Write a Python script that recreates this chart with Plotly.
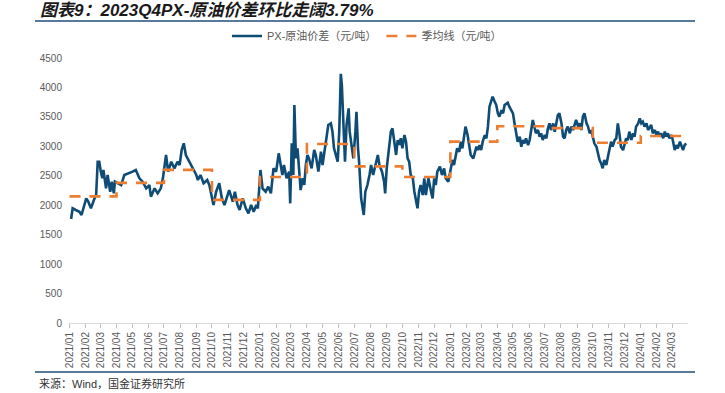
import plotly.graph_objects as go

# ---------------- data ----------------
px_dates = [
    "2021-01-04","2021-01-07","2021-01-13","2021-01-20","2021-01-24","2021-02-02","2021-02-06","2021-02-11",
    "2021-02-18","2021-02-21","2021-02-24","2021-02-27","2021-03-02","2021-03-05","2021-03-07","2021-03-12",
    "2021-03-15","2021-03-20","2021-03-23","2021-03-27","2021-03-29","2021-04-03","2021-04-10","2021-04-16",
    "2021-04-26","2021-05-02","2021-05-08","2021-05-15","2021-05-21","2021-05-28","2021-06-03","2021-06-06",
    "2021-06-13","2021-06-19","2021-06-25","2021-06-29","2021-07-05","2021-07-09","2021-07-15","2021-07-21",
    "2021-07-27","2021-07-31","2021-08-04","2021-08-08","2021-08-12","2021-08-19","2021-08-25","2021-09-01",
    "2021-09-04","2021-09-09","2021-09-15","2021-09-22","2021-09-26","2021-10-01","2021-10-04","2021-10-09",
    "2021-10-15","2021-10-20","2021-10-25","2021-10-31","2021-11-03","2021-11-10","2021-11-14","2021-11-19",
    "2021-11-23","2021-11-29","2021-12-05","2021-12-10","2021-12-15","2021-12-20","2021-12-25","2021-12-28",
    "2022-01-02","2022-01-06","2022-01-12","2022-01-17","2022-01-22","2022-01-27","2022-02-01","2022-02-06",
    "2022-02-10","2022-02-13","2022-02-16","2022-02-21","2022-02-26","2022-02-28","2022-03-03","2022-03-06",
    "2022-03-08","2022-03-11","2022-03-14","2022-03-17","2022-03-20","2022-03-24","2022-03-27","2022-03-30",
    "2022-04-02","2022-04-05","2022-04-10","2022-04-15","2022-04-18","2022-04-23","2022-04-28","2022-05-01",
    "2022-05-06","2022-05-09","2022-05-12","2022-05-17","2022-05-20","2022-05-23","2022-05-26","2022-05-30",
    "2022-06-02","2022-06-05","2022-06-07","2022-06-10","2022-06-13","2022-06-16","2022-06-20","2022-06-22",
    "2022-06-26","2022-06-29","2022-07-03","2022-07-05","2022-07-08","2022-07-10","2022-07-14","2022-07-17",
    "2022-07-19","2022-07-22","2022-07-26","2022-07-30","2022-08-02","2022-08-06","2022-08-12","2022-08-15",
    "2022-08-18","2022-08-23","2022-08-27","2022-08-29","2022-09-01","2022-09-05","2022-09-09","2022-09-12",
    "2022-09-15","2022-09-19","2022-09-22","2022-09-25","2022-09-28","2022-10-01","2022-10-05","2022-10-08",
    "2022-10-11","2022-10-14","2022-10-17","2022-10-21","2022-10-24","2022-10-27","2022-10-30","2022-11-02",
    "2022-11-05","2022-11-09","2022-11-12","2022-11-15","2022-11-20","2022-11-25","2022-11-28","2022-12-01",
    "2022-12-04","2022-12-07","2022-12-12","2022-12-16","2022-12-20","2022-12-23","2022-12-28","2023-01-02",
    "2023-01-05","2023-01-08","2023-01-11","2023-01-14","2023-01-18","2023-01-21","2023-01-24","2023-01-27",
    "2023-01-30","2023-02-03","2023-02-06","2023-02-09","2023-02-14","2023-02-20","2023-02-23","2023-02-26",
    "2023-03-01","2023-03-04","2023-03-08","2023-03-11","2023-03-14","2023-03-17","2023-03-20","2023-03-23",
    "2023-03-27","2023-03-30","2023-04-02","2023-04-05","2023-04-09","2023-04-12","2023-04-15","2023-04-18",
    "2023-04-21","2023-04-24","2023-04-28","2023-05-01","2023-05-04","2023-05-07","2023-05-10","2023-05-14",
    "2023-05-17","2023-05-20","2023-05-23","2023-05-26","2023-05-30","2023-06-02","2023-06-05","2023-06-08",
    "2023-06-11","2023-06-14","2023-06-18","2023-06-21","2023-06-24","2023-06-27","2023-07-01","2023-07-04",
    "2023-07-07","2023-07-10","2023-07-13","2023-07-17","2023-07-20","2023-07-23","2023-07-26","2023-07-29",
    "2023-08-02","2023-08-05","2023-08-08","2023-08-11","2023-08-14","2023-08-18","2023-08-21","2023-08-24",
    "2023-08-27","2023-08-30","2023-09-03","2023-09-06","2023-09-09","2023-09-12","2023-09-15","2023-09-19",
    "2023-09-22","2023-09-25","2023-09-28","2023-10-01","2023-10-04","2023-10-08","2023-10-11","2023-10-14",
    "2023-10-17","2023-10-20","2023-10-23","2023-10-27","2023-10-30","2023-11-02","2023-11-05","2023-11-08",
    "2023-11-12","2023-11-15","2023-11-18","2023-11-21","2023-11-24","2023-11-28","2023-12-01","2023-12-04",
    "2023-12-07","2023-12-10","2023-12-14","2023-12-17","2023-12-20","2023-12-23","2023-12-27","2023-12-30",
    "2024-01-02","2024-01-05","2024-01-08","2024-01-12","2024-01-15","2024-01-18","2024-01-21","2024-01-24",
    "2024-01-28","2024-01-31","2024-02-03","2024-02-06","2024-02-09","2024-02-13","2024-02-16","2024-02-19",
    "2024-02-22","2024-02-25","2024-02-29","2024-03-03","2024-03-06","2024-03-09","2024-03-12","2024-03-16",
    "2024-03-19","2024-03-22","2024-03-25","2024-03-28",
]
px_values = [
    1766,1947,1919,1890,1834,2117,2060,1947,
    2117,2173,2739,2739,2570,2457,2598,2287,
    2513,2230,2400,2202,2400,2372,2343,2513,
    2541,2570,2598,2457,2400,2287,2343,2145,
    2287,2202,2287,2457,2853,2570,2739,2626,
    2739,2683,2938,3051,2853,2739,2626,2513,
    2428,2513,2372,2428,2343,2117,2004,2230,
    2372,2117,2004,2173,2258,2060,2230,2004,
    1919,2117,1947,1862,2004,1890,2004,1947,
    2598,2287,2230,2315,2202,2626,2570,2881,
    2683,2513,2683,2457,2570,2032,3051,2513,
    3702,2796,2966,2570,2258,2457,2343,2683,
    2853,2796,2626,2938,2853,2570,2909,2683,
    3023,3249,3362,3390,3249,2966,2853,2739,
    3249,4230,4041,3249,2739,3362,3645,3249,
    2966,2796,3249,3588,2966,2739,2117,1890,
    1834,2230,2343,2513,2683,2513,2739,2853,
    2683,2570,2400,2202,2626,2966,3249,3306,
    3079,2853,3107,3023,3136,2966,3192,3079,
    2796,2739,2513,2457,2230,2060,1947,2230,
    2343,2173,2457,2173,2457,2230,2117,2457,
    2343,2570,2655,2513,2626,2457,2400,2626,
    2768,2683,2853,2966,2909,3079,2966,3164,
    3334,3192,3023,2853,2796,2994,2937,3022,
    2937,3079,3192,3136,3334,3673,3758,3843,
    3758,3701,3560,3503,3616,3560,3701,3730,
    3741,3673,3616,3560,3390,3221,3079,3164,
    2994,3107,3051,3136,3022,3107,3277,3447,
    3334,3221,3277,3164,3221,3107,3192,3136,
    3306,3390,3277,3390,3249,3390,3532,3560,
    3390,3164,3136,3277,3334,3221,3334,3277,
    3390,3447,3334,3390,3277,3503,3560,3390,
    3334,3221,3277,3164,3051,2994,2881,2768,
    2711,2626,2768,2683,2824,2937,3079,2994,
    3107,3136,3390,3221,2994,2937,3051,3136,
    3107,3249,3107,3221,3164,3334,3390,3475,
    3390,3418,3334,3390,3277,3334,3362,3221,
    3277,3192,3249,3164,3221,3136,3249,3164,
    3221,3136,3192,3079,2937,3022,2966,3079,
    2994,2937,3022,3051,
]

quarter_starts = [
    "2021-01-01","2021-04-01","2021-07-01","2021-10-01",
    "2022-01-01","2022-04-01","2022-07-01","2022-10-01",
    "2023-01-01","2023-04-01","2023-07-01","2023-10-01",
    "2024-01-01","2024-03-28",
]
quarter_avg = [2150, 2380, 2600, 2090, 2480, 3040, 2660, 2480, 3080, 3340, 3310, 3060, 3176, 3176]

y_ticks = [0, 500, 1000, 1500, 2000, 2500, 3000, 3500, 4000, 4500]

series_names = ["PX-原油价差（元/吨）", "季均线（元/吨）"]
title_text = "图表9：2023Q4PX-原油价差环比走阔3.79%"
source_text = "来源：Wind，国金证券研究所"

# ---------------- figure ----------------
FONT = "Liberation Sans, Arial, Noto Sans CJK SC, sans-serif"
W, H = 725, 393
L, R, T, B = 69, 37, 58, 70
pw, ph = W - L - R, H - T - B


def px2x(px):
    return (px - L) / pw


def py2y(py):
    return (H - B - py) / ph


fig = go.Figure()
fig.add_trace(go.Scatter(
    x=px_dates, y=px_values, mode="lines", name=series_names[0],
    line=dict(color="#0E4C75", width=2.6),
))
fig.add_trace(go.Scatter(
    x=quarter_starts, y=quarter_avg, mode="lines", name=series_names[1],
    line=dict(color="#ED7D31", width=2.6, dash="11px,9px", shape="hv"),
))

fig.update_layout(
    width=W, height=H,
    margin=dict(l=L, r=R, t=T, b=B, autoexpand=False),
    paper_bgcolor="white", plot_bgcolor="white",
    font=dict(family=FONT, size=10, color="#595959"),
    showlegend=True,
    legend=dict(
        orientation="h", x=px2x(367), xanchor="center", y=py2y(36), yanchor="middle",
        font=dict(size=11, color="#595959", family=FONT),
        itemwidth=30, tracegroupgap=0, bgcolor="rgba(0,0,0,0)",
    ),
    xaxis=dict(
        type="date", range=["2020-12-31", "2024-03-31 12:00"],
        tick0="2021-01-01", dtick="M1", tickformat="%Y/%m", tickangle=-90,
        ticks="outside", ticklen=4, tickcolor="#BFBFBF", tickwidth=1,
        showline=True, linecolor="#D9D9D9", linewidth=1,
        showgrid=False, zeroline=False, automargin=False,
        tickfont=dict(size=10, color="#595959", family=FONT),
    ),
    yaxis=dict(
        range=[0, 4500], tickvals=y_ticks, ticks="", showline=False,
        showgrid=False, zeroline=False, automargin=False,
        ticklabelstandoff=6,
        tickfont=dict(size=10, color="#595959", family=FONT),
    ),
    annotations=[
        dict(text="<b><i>" + title_text + "</i></b>", xref="paper", yref="paper",
             x=px2x(38), y=py2y(10), xanchor="left", yanchor="middle", showarrow=False,
             font=dict(size=17, color="#1A1A1A", family=FONT)),
        dict(text=source_text, xref="paper", yref="paper",
             x=px2x(37), y=py2y(383), xanchor="left", yanchor="middle", showarrow=False,
             font=dict(size=11, color="#333333", family=FONT)),
    ],
    shapes=[
        dict(type="line", xref="paper", yref="paper", x0=px2x(35), x1=px2x(695),
             y0=py2y(21), y1=py2y(21), line=dict(color="#1F4E79", width=1.5)),
        dict(type="line", xref="paper", yref="paper", x0=px2x(35), x1=px2x(695),
             y0=py2y(372), y1=py2y(372), line=dict(color="#1F4E79", width=1.5)),
    ],
)

fig.write_html("out.html", config={"displayModeBar": False},
               post_script="document.body.style.margin='0';")
